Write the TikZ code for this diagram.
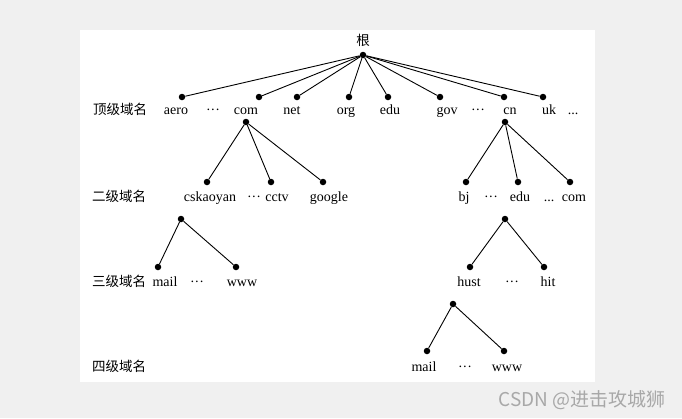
\documentclass[tikz,border=0pt]{standalone}
\usepackage{fontspec}
\setmainfont{Liberation Serif}
\newfontfamily\cjk{Noto Sans CJK SC}
\newfontfamily\wmfont{Noto Sans CJK SC}
\definecolor{bggray}{HTML}{F0F0F0}
\definecolor{wmgray}{HTML}{A8A8A8}
\tikzset{
  dotnode/.style={circle, fill=black, inner sep=0pt, minimum size=6.5pt},
  lbl/.style={font=\fontsize{14}{14}\selectfont, inner sep=0pt, anchor=base},
  lvl/.style={font=\cjk\fontsize{13.5}{14}\selectfont, inner sep=0pt, anchor=base},
  edge/.style={line width=0.9pt, black}
}
\begin{document}
\begin{tikzpicture}[x=1pt, y=-1pt]
\useasboundingbox (0,0) rectangle (682,418);
\fill[bggray] (0,0) rectangle (682,418);
\fill[white] (80,30) rectangle (595,382);

% root
\node[lvl] (rootlbl) at (363,45) {根};
\node[dotnode] (root) at (363,55) {};

% level 1 dots
\node[dotnode] (aero) at (182,97) {};
\node[dotnode] (com) at (259,97) {};
\node[dotnode] (net) at (297,97) {};
\node[dotnode] (org) at (349,97) {};
\node[dotnode] (edu) at (388,97) {};
\node[dotnode] (gov) at (440,97) {};
\node[dotnode] (cn) at (504,97) {};
\node[dotnode] (uk) at (543,97) {};
\foreach \n in {aero,com,net,org,edu,gov,cn,uk} \draw[edge] (root) -- (\n);

% level 1 labels
\node[lvl] (l1) at (120,114) {顶级域名};
\node[lbl] (taero) at (176,114) {aero};
\node[lbl] (td1) at (213,114) {···};
\node[lbl] (tcom) at (246,114) {com};
\node[lbl] (tnet) at (292,114) {net};
\node[lbl] (torg) at (346,114) {org};
\node[lbl] (tedu) at (390,114) {edu};
\node[lbl] (tgov) at (447,114) {gov};
\node[lbl] (td2) at (478,114) {···};
\node[lbl] (tcn) at (510,114) {cn};
\node[lbl] (tuk) at (549,114) {uk};
\node[lbl] (td3) at (573,114) {...};

% level 2
\node[dotnode] (comB) at (246,122) {};
\node[dotnode] (cnB) at (505,122) {};
\node[dotnode] (csk) at (207,182) {};
\node[dotnode] (cctv) at (271,182) {};
\node[dotnode] (google) at (323,182) {};
\node[dotnode] (bj) at (466,182) {};
\node[dotnode] (edu2) at (518,182) {};
\node[dotnode] (com2) at (570,182) {};
\foreach \n in {csk,cctv,google} \draw[edge] (comB) -- (\n);
\foreach \n in {bj,edu2,com2} \draw[edge] (cnB) -- (\n);

\node[lvl] (l2) at (119,201) {二级域名};
\node[lbl] (tcsk) at (210,201) {cskaoyan};
\node[lbl] (td4) at (254,201) {···};
\node[lbl] (tcctv) at (277,201) {cctv};
\node[lbl] (tgoogle) at (329,201) {google};
\node[lbl] (tbj) at (464,201) {bj};
\node[lbl] (td5) at (491,201) {···};
\node[lbl] (tedu2) at (520,201) {edu};
\node[lbl] (td6) at (549,201) {...};
\node[lbl] (tcom2) at (574,201) {com};

% level 3
\node[dotnode] (cskB) at (181,219) {};
\node[dotnode] (eduB) at (505,219) {};
\node[dotnode] (mail3) at (158,267) {};
\node[dotnode] (www3) at (236,267) {};
\node[dotnode] (hust) at (470,267) {};
\node[dotnode] (hit) at (544,267) {};
\draw[edge] (cskB) -- (mail3);
\draw[edge] (cskB) -- (www3);
\draw[edge] (eduB) -- (hust);
\draw[edge] (eduB) -- (hit);

\node[lvl] (l3) at (119,286) {三级域名};
\node[lbl] (tmail3) at (165,286) {mail};
\node[lbl] (td7) at (197,286) {···};
\node[lbl] (twww3) at (242,286) {www};
\node[lbl] (thust) at (469,286) {hust};
\node[lbl] (td8) at (512,286) {···};
\node[lbl] (thit) at (548,286) {hit};

% level 4
\node[dotnode] (hustB) at (453,304) {};
\node[dotnode] (mail4) at (427,351) {};
\node[dotnode] (www4) at (504,351) {};
\draw[edge] (hustB) -- (mail4);
\draw[edge] (hustB) -- (www4);

\node[lvl] (l4) at (119,371) {四级域名};
\node[lbl] (tmail4) at (424,371) {mail};
\node[lbl] (td9) at (465,371) {···};
\node[lbl] (twww4) at (507,371) {www};

% watermark
\node[font=\wmfont\fontsize{19}{19}\selectfont, text=wmgray, inner sep=0pt, anchor=base] (wm) at (582,406) {CSDN @进击攻城狮};
\end{tikzpicture}
\end{document}
